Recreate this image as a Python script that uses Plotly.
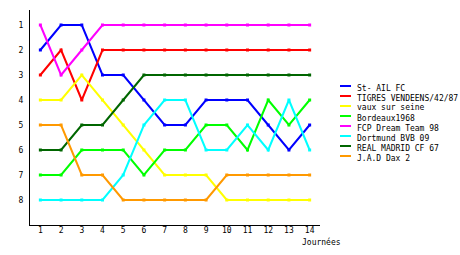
import plotly.graph_objects as go

journees = list(range(1, 15))
teams = ["St- AIL FC", "TIGRES VENDEENS/42/87", "vaux sur seine", "Bordeaux1968",
         "FCP Dream Team 98", "Dortmund BVB 09", "REAL MADRID CF 67", "J.A.D Dax 2"]
colors = ["#0000ff", "#ff0000", "#ffff00", "#00ff00", "#ff00ff", "#00ffff", "#006600", "#ff9900"]

st_ail = [2, 1, 1, 3, 3, 4, 5, 5, 4, 4, 4, 5, 6, 5]
tigres = [3, 2, 4, 2, 2, 2, 2, 2, 2, 2, 2, 2, 2, 2]
vaux = [4, 4, 3, 4, 5, 6, 7, 7, 7, 8, 8, 8, 8, 8]
bordeaux = [7, 7, 6, 6, 6, 7, 6, 6, 5, 5, 6, 4, 5, 4]
fcp = [1, 3, 2, 1, 1, 1, 1, 1, 1, 1, 1, 1, 1, 1]
dortmund = [8, 8, 8, 8, 7, 5, 4, 4, 6, 6, 5, 6, 4, 6]
real = [6, 6, 5, 5, 4, 3, 3, 3, 3, 3, 3, 3, 3, 3]
jad = [5, 5, 7, 7, 8, 8, 8, 8, 8, 7, 7, 7, 7, 7]
series = [st_ail, tigres, vaux, bordeaux, fcp, dortmund, real, jad]

y_ticks = list(range(1, 9))

FONT = "DejaVu Sans Mono"

fig = go.Figure()
for name, col, vals in zip(teams, colors, series):
    fig.add_trace(go.Scatter(
        x=journees, y=vals, name=name, mode="lines+markers",
        line=dict(color=col, width=2),
        marker=dict(color=col, size=3, symbol="square", line=dict(width=0)),
        showlegend=False,
    ))

# manual compact legend
L, R, T, B = 30, 140, 10, 30
W, H = 460 - L - R, 255 - T - B
def px2x(px):
    return (px - L) / W
def px2y(py):
    return 1 - (py - T) / H

for i, (name, col) in enumerate(zip(teams, colors)):
    py = 86 + 10 * i
    fig.add_shape(type="line", xref="paper", yref="paper",
                  x0=px2x(340), x1=px2x(351), y0=px2y(py), y1=px2y(py),
                  line=dict(color=col, width=2))
    fig.add_annotation(xref="paper", yref="paper", x=px2x(355), y=px2y(py + 2),
                       text=name, showarrow=False, xanchor="left", yanchor="middle",
                       font=dict(family=FONT, size=8, color="black"))

fig.add_annotation(xref="paper", yref="paper", x=px2x(300), y=px2y(242),
                   text="Journées", showarrow=False, xanchor="left", yanchor="middle",
                   font=dict(family=FONT, size=8, color="black"))

fig.update_layout(
    width=460, height=255,
    margin=dict(l=L, r=R, t=T, b=B),
    paper_bgcolor="white", plot_bgcolor="white",
    font=dict(family=FONT, size=8, color="black"),
    xaxis=dict(range=[0.5, 14.5], tickvals=journees, showgrid=False, zeroline=False,
               showline=True, linecolor="black", linewidth=1, ticks="",
               ticklabelstandoff=-3),
    yaxis=dict(range=[9, 0.4], tickvals=y_ticks, showgrid=False, zeroline=False,
               showline=True, linecolor="black", linewidth=1, ticks="outside",
               ticklen=4, tickcolor="white"),
)

fig.write_html("out.html")
